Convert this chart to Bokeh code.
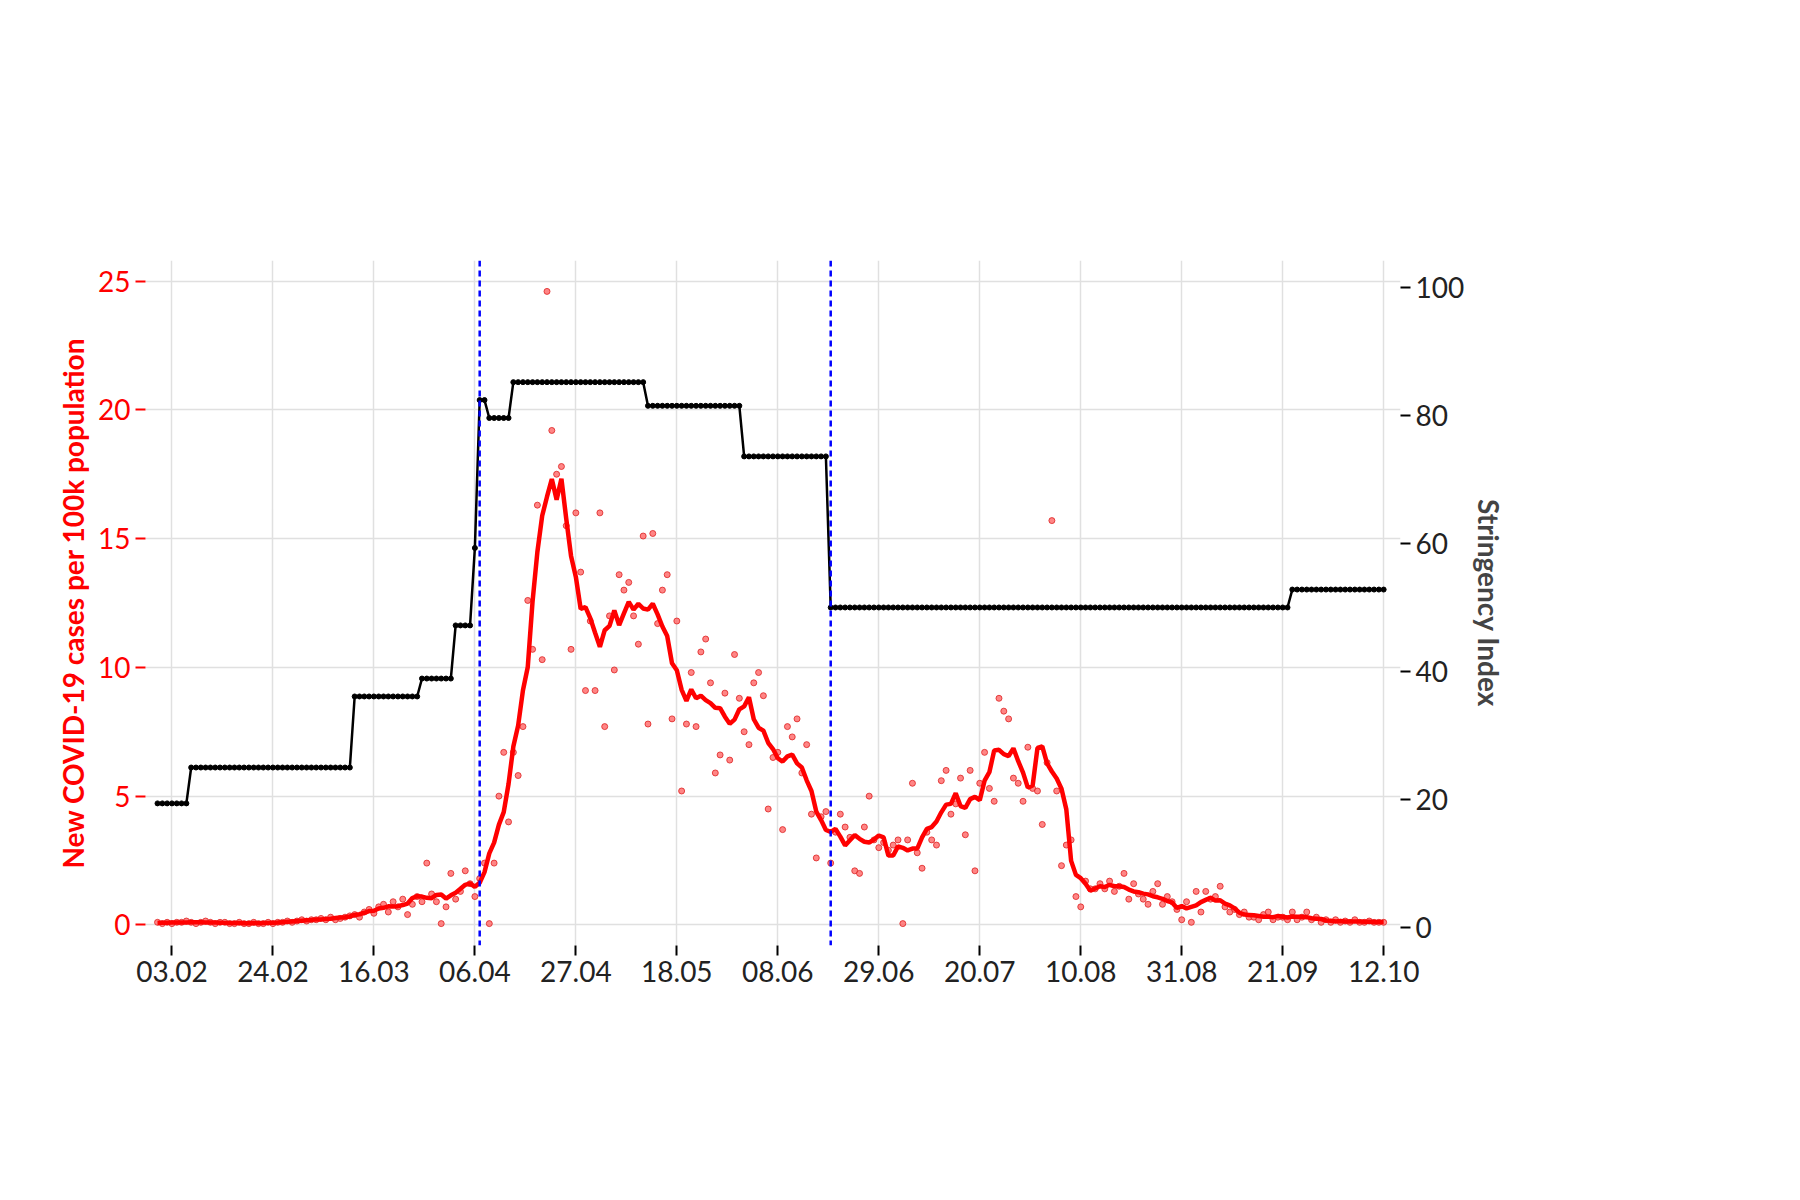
from datetime import datetime, timedelta

import numpy as np
import pandas as pd

from bokeh.plotting import figure
from bokeh.models import (ColumnDataSource, Range1d, LinearAxis, Span, Label,
                          Legend, LegendItem, FixedTicker, DatetimeTickFormatter)
from bokeh.embed import file_html
from bokeh.resources import INLINE

start = datetime(2020, 1, 31)

# daily new cases per 100k
cases = [
    0.1, 0.05, 0.1, 0.05, 0.1, 0.1, 0.15, 0.1, 0.05, 0.1, 0.15, 0.1, 0.05, 0.1, 0.1, 0.05, 0.05, 0.1, 0.05, 0.05, 0.1,
    0.05, 0.05, 0.1, 0.05, 0.1, 0.1, 0.15, 0.1, 0.15, 0.2, 0.15, 0.2, 0.2, 0.25, 0.2, 0.3, 0.2, 0.25, 0.3, 0.35,
    0.4, 0.3, 0.5, 0.6, 0.45, 0.7, 0.8, 0.5, 0.9, 0.7, 1.0, 0.4, 0.8, 1.1, 0.9,
    2.4, 1.2, 0.9, 0.05, 0.7, 2.0, 1.0, 1.3, 2.1, 1.6, 1.1,
    1.8, 2.4, 0.05, 2.4,
    5.0, 6.7, 4.0, 6.7, 5.8, 7.7, 12.6, 10.7, 16.3, 10.3, 24.6, 19.2, 17.5, 17.8, 15.5, 10.7, 16.0, 13.7, 9.1, 11.8,
    9.1, 16.0, 7.7, 12.0, 9.9, 13.6, 13.0, 13.3, 12.0, 10.9, 15.1, 7.8, 15.2, 11.7, 13.0, 13.6, 8.0, 11.8, 5.2, 7.8,
    9.8, 7.7, 10.6, 11.1, 9.4, 5.9, 6.6, 9.0, 6.4, 10.5, 8.8, 7.5, 7.0, 9.4, 9.8, 8.9, 4.5, 6.5, 6.7, 3.7,
    7.7, 7.3, 8.0, 5.9, 7.0, 4.3, 2.6, 4.2, 4.4, 2.4, 3.6, 4.3, 3.8, 3.4, 2.1, 2.0, 3.8, 5.0, 3.3, 3.0,
    3.2, 2.9, 3.1, 3.3, 0.05, 3.3, 5.5, 2.8, 2.2, 3.6, 3.3, 3.1, 5.6, 6.0, 4.3, 4.7, 5.7, 3.5, 6.0, 2.1,
    5.5, 6.7, 5.3, 4.8, 8.8, 8.3, 8.0, 5.7, 5.5, 4.8, 6.9, 5.3, 5.2, 3.9, 6.3, 15.7, 5.2, 2.3, 3.1, 3.3,
    1.1, 0.7, 1.7, 1.4, 1.4, 1.6, 1.4, 1.7, 1.3, 1.5, 2.0, 1.0, 1.6, 1.2, 1.0, 0.8, 1.3, 1.6, 0.8, 1.1,
    0.9, 0.6, 0.2, 0.9, 0.1, 1.3, 0.5, 1.3, 1.0, 1.1, 1.5, 0.7, 0.5, 0.6, 0.4, 0.5, 0.3, 0.3, 0.2, 0.4,
    0.5, 0.2, 0.3, 0.3, 0.2, 0.5, 0.2, 0.3, 0.5, 0.2, 0.3, 0.1, 0.2, 0.1, 0.2, 0.1, 0.15, 0.1, 0.2, 0.1,
    0.1, 0.15, 0.1, 0.1, 0.1,
]

# stringency index change points: (day index, value)
stringency_steps = [(0, 19.4), (7, 25.0), (41, 36.1), (55, 38.9), (62, 47.2), (66, 59.3),
                    (67, 82.4), (69, 79.6), (74, 85.2), (102, 81.5), (122, 73.6),
                    (140, 50.0), (236, 52.8), (256, 50.0)]

n = len(cases)
dates = [start + timedelta(days=i) for i in range(n)]
stringency = []
for i in range(n):
    v = stringency_steps[0][1]
    for d, s in stringency_steps:
        if i >= d:
            v = s
    stringency.append(v)

avg7 = pd.Series(cases).rolling(7, min_periods=1, center=True).mean().tolist()

events = [(datetime(2020, 4, 7), "limit public gatherings", "center"),
          (datetime(2020, 6, 19), "businesses reopening", "left")]

tick_dates = [datetime(2020, 2, 3) + timedelta(days=21 * k) for k in range(13)]

src = ColumnDataSource(dict(date=dates, cases=cases, avg=avg7, si=stringency))

FONT = "Lato"
p = figure(width=1560, height=1050, x_axis_type="datetime", output_backend="svg",
           toolbar_location=None, min_border_left=145, min_border_right=160,
           min_border_top=260, min_border_bottom=105,
           x_range=Range1d(datetime(2020, 1, 28, 12), datetime(2020, 10, 15, 12)),
           y_range=Range1d(-0.8, 25.8))
p.extra_y_ranges = {"si": Range1d(-2.8, 104.2)}
p.outline_line_color = None
p.background_fill_color = "white"
p.grid.grid_line_color = "#e0e0e0"
p.grid.grid_line_width = 1.5

p.xaxis.ticker = FixedTicker(ticks=[d.timestamp() * 1000 for d in tick_dates])
p.xaxis.formatter = DatetimeTickFormatter(days="%d.%m", months="%d.%m")
p.yaxis.ticker = FixedTicker(ticks=[0, 5, 10, 15, 20, 25])

for ax in [p.xaxis[0], p.yaxis[0]]:
    ax.axis_line_color = None
    ax.major_tick_line_width = 2
    ax.major_tick_in = 0
    ax.major_tick_out = 10
    ax.minor_tick_line_color = None
    ax.major_label_text_font = FONT
    ax.major_label_text_font_size = "28px"
    ax.major_label_text_font_style = "normal"
p.xaxis.major_label_text_color = "#222222"
p.yaxis.major_label_text_color = "red"
p.yaxis.major_tick_line_color = "red"
p.yaxis.axis_label = "New COVID-19 cases per 100k population"
p.yaxis.axis_label_text_color = "red"
p.yaxis.axis_label_text_font = FONT
p.yaxis.axis_label_text_font_size = "28px"
p.yaxis.axis_label_text_font_style = "bold"

rax = LinearAxis(y_range_name="si", axis_label="Stringency Index",
                 ticker=FixedTicker(ticks=[0, 20, 40, 60, 80, 100]))
rax.axis_line_color = None
rax.major_tick_line_width = 2
rax.major_tick_in = 0
rax.major_tick_out = 10
rax.minor_tick_line_color = None
rax.major_label_text_font = FONT
rax.major_label_text_font_size = "28px"
rax.major_label_text_color = "#222222"
rax.axis_label_text_font = FONT
rax.axis_label_text_font_size = "28px"
rax.axis_label_text_font_style = "bold"
p.add_layout(rax, "right")

r_dots = p.scatter("date", "cases", source=src, size=6, fill_color="#ff6666",
                   line_color="#dd2222", fill_alpha=0.8, line_alpha=0.8)
r_avg = p.line("date", "avg", source=src, line_color="red", line_width=4.5)
r_si_l = p.line("date", "si", source=src, y_range_name="si", line_color="black", line_width=2.5)
r_si_d = p.scatter("date", "si", source=src, y_range_name="si", size=5, color="black")

for d, txt, align in events:
    p.add_layout(Span(location=d.timestamp() * 1000, dimension="height",
                      line_color="blue", line_dash="6 4", line_width=2.5))
    p.add_layout(Label(x=d, y=26.0, text=txt, text_align=align,
                       text_font=FONT, text_font_size="28px", text_font_style="bold",
                       text_color="black"))

p.add_layout(Label(x=datetime(2020, 1, 30, 12), y=32.3, text="Singapore",
                   text_font=FONT, text_font_size="46px", text_font_style="bold"))

legend = Legend(items=[LegendItem(label="cases per 100k pop.", renderers=[r_dots]),
                       LegendItem(label="cases per 100k pop. (7 day average)", renderers=[r_avg]),
                       LegendItem(label="stringency index", renderers=[r_si_l, r_si_d])],
                location=(618, 737), label_text_font=FONT, label_text_font_size="28px",
                label_text_color="#222222", border_line_color="#cccccc", border_line_width=2,
                glyph_width=70, glyph_height=40, spacing=6, padding=12, label_standoff=24,
                background_fill_alpha=1.0)
p.add_layout(legend, "center")

open("out.html", "w").write(file_html(p, INLINE))
